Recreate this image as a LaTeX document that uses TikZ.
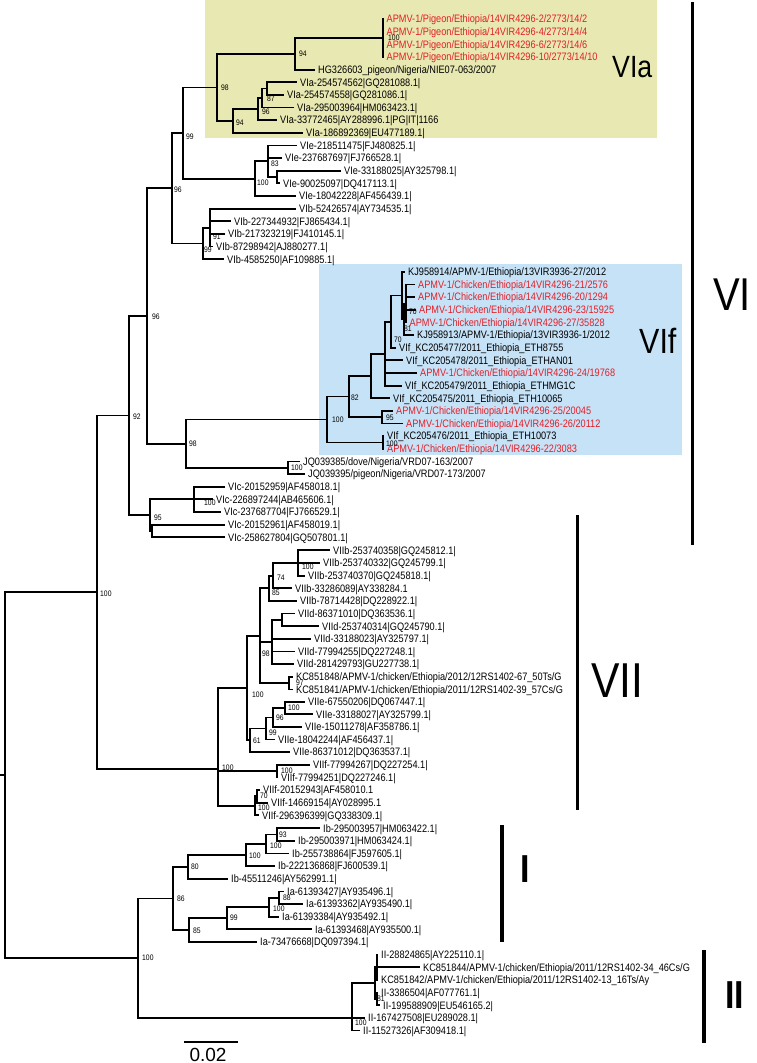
\documentclass[tikz,border=0pt]{standalone}
\usepackage{fontspec}
\setmainfont{Liberation Sans}
\newfontfamily\labfont[FakeStretch=0.85]{Liberation Sans}
\newfontfamily\cladefont[FakeStretch=0.87]{Liberation Sans}
\definecolor{redlab}{RGB}{228,30,38}
\definecolor{boxa}{RGB}{232,232,178}
\definecolor{boxf}{RGB}{198,226,247}
\tikzset{
  br/.style={line width=1.8pt},
  leaf/.style={inner sep=0pt, anchor=base west, font={\labfont\fontsize{10.8}{12}\selectfont}},
  redleaf/.style={leaf, text=redlab},
  bs/.style={inner sep=0pt, anchor=west, font={\labfont\fontsize{8}{9}\selectfont}},
  cbar/.style={line width=3pt},
  clab/.style={inner sep=0pt, anchor=base west},
}
\newcommand{\Lf}[5][]{\coordinate (#2) at (#3,#4); \node[leaf,#1] (#2t) at (#3+3,#4+3.8) {#5};}
\newcommand{\E}[2]{\draw[br] (#1) |- (#2);}
\newcommand{\Bs}[4]{\node[bs] (#1) at (#2,#3) {#4};}
\begin{document}
\begin{tikzpicture}[x=1pt,y=-1pt]
\path[use as bounding box, fill=white] (0,0) rectangle (757,1063);
% boxes
\fill[boxa] (205,0) rectangle (657,138);
\fill[boxf] (319,264) rectangle (682,455);
% ---------------- leaves ----------------
\Lf[redleaf]{l1}{383.5}{19.0}{APMV-1/Pigeon/Ethiopia/14VIR4296-2/2773/14/2}
\Lf[redleaf]{l2}{383.5}{31.6}{APMV-1/Pigeon/Ethiopia/14VIR4296-4/2773/14/4}
\Lf[redleaf]{l3}{383.5}{44.3}{APMV-1/Pigeon/Ethiopia/14VIR4296-6/2773/14/6}
\Lf[redleaf]{l4}{383.5}{56.9}{APMV-1/Pigeon/Ethiopia/14VIR4296-10/2773/14/10}
\Lf{l5}{315}{69.6}{HG326603\_pigeon/Nigeria/NIE07-063/2007}
\Lf{l6}{297}{82.2}{VIa-254574562|GQ281088.1|}
\Lf{l7}{284}{94.8}{VIa-254574558|GQ281086.1|}
\Lf{l8}{294}{107.5}{VIa-295003964|HM063423.1|}
\Lf{l9}{277}{120.1}{VIa-33772465|AY288996.1|PG|IT|1166}
\Lf{l10}{303}{132.8}{VIa-186892369|EU477189.1|}
\Lf{l11}{297}{145.4}{VIe-218511475|FJ480825.1|}
\Lf{l12}{282}{158.0}{VIe-237687697|FJ766528.1|}
\Lf{l13}{341}{170.7}{VIe-33188025|AY325798.1|}
\Lf{l14}{280}{183.3}{VIe-90025097|DQ417113.1|}
\Lf{l15}{296}{196.0}{VIe-18042228|AF456439.1|}
\Lf{l16}{296}{208.6}{VIb-52426574|AY734535.1|}
\Lf{l17}{231}{221.2}{VIb-227344932|FJ865434.1|}
\Lf{l18}{225}{233.9}{VIb-217323219|FJ410145.1|}
\Lf{l19}{213}{246.5}{VIb-87298942|AJ880277.1|}
\Lf{l20}{224}{259.2}{VIb-4585250|AF109885.1|}
\Lf{l21}{405}{271.8}{KJ958914/APMV-1/Ethiopia/13VIR3936-27/2012}
\Lf[redleaf]{l22}{415}{284.4}{APMV-1/Chicken/Ethiopia/14VIR4296-21/2576}
\Lf[redleaf]{l23}{415}{297.1}{APMV-1/Chicken/Ethiopia/14VIR4296-20/1294}
\Lf[redleaf]{l24}{416}{309.7}{APMV-1/Chicken/Ethiopia/14VIR4296-23/15925}
\Lf[redleaf]{l25}{406.5}{322.4}{APMV-1/Chicken/Ethiopia/14VIR4296-27/35828}
\Lf{l26}{414}{335.0}{KJ958913/APMV-1/Ethiopia/13VIR3936-1/2012}
\Lf{l27}{396}{347.6}{VIf\_KC205477/2011\_Ethiopia\_ETH8755}
\Lf{l28}{403}{360.3}{VIf\_KC205478/2011\_Ethiopia\_ETHAN01}
\Lf[redleaf]{l29}{417}{372.9}{APMV-1/Chicken/Ethiopia/14VIR4296-24/19768}
\Lf{l30}{402}{385.6}{VIf\_KC205479/2011\_Ethiopia\_ETHMG1C}
\Lf{l31}{390}{398.2}{VIf\_KC205475/2011\_Ethiopia\_ETH10065}
\Lf[redleaf]{l32}{393}{410.8}{APMV-1/Chicken/Ethiopia/14VIR4296-25/20045}
\Lf[redleaf]{l33}{403}{423.5}{APMV-1/Chicken/Ethiopia/14VIR4296-26/20112}
\Lf{l34}{384}{436.1}{VIf\_KC205476/2011\_Ethiopia\_ETH10073}
\Lf[redleaf]{l35}{384}{448.8}{APMV-1/Chicken/Ethiopia/14VIR4296-22/3083}
\Lf{l36}{300}{461.4}{JQ039385/dove/Nigeria/VRD07-163/2007}
\Lf{l37}{305}{474.1}{JQ039395/pigeon/Nigeria/VRD07-173/2007}
\Lf{l38}{225}{486.7}{VIc-20152959|AF458018.1|}
\Lf{l39}{213}{499.3}{VIc-226897244|AB465606.1|}
\Lf{l40}{221}{512.0}{VIc-237687704|FJ766529.1|}
\Lf{l41}{225}{524.6}{VIc-20152961|AF458019.1|}
\Lf{l42}{225}{537.3}{VIc-258627804|GQ507801.1|}
\Lf{l43}{330}{550.3}{VIIb-253740358|GQ245812.1|}
\Lf{l44}{320}{562.9}{VIIb-253740332|GQ245799.1|}
\Lf{l45}{305}{575.6}{VIIb-253740370|GQ245818.1|}
\Lf{l46}{292}{588.2}{VIIb-33286089|AY338284.1}
\Lf{l47}{297}{600.9}{VIIb-78714428|DQ228922.1|}
\Lf{l48}{295}{613.5}{VIId-86371010|DQ363536.1|}
\Lf{l49}{319}{626.2}{VIId-253740314|GQ245790.1|}
\Lf{l50}{311}{638.8}{VIId-33188023|AY325797.1|}
\Lf{l51}{295}{651.4}{VIId-77994255|DQ227248.1|}
\Lf{l52}{294}{664.1}{VIId-281429793|GU227738.1|}
\Lf{l53}{293}{676.8}{KC851848/APMV-1/chicken/Ethiopia/2012/12RS1402-67\_50Ts/G}
\Lf{l54}{293}{689.4}{KC851841/APMV-1/chicken/Ethiopia/2011/12RS1402-39\_57Cs/G}
\Lf{l55}{305}{701.6}{VIIe-67550206|DQ067447.1|}
\Lf{l56}{313}{714.2}{VIIe-33188027|AY325799.1|}
\Lf{l57}{302}{726.9}{VIIe-15011278|AF358786.1|}
\Lf{l58}{275}{739.5}{VIIe-18042244|AF456437.1|}
\Lf{l59}{290}{752.1}{VIIe-86371012|DQ363537.1|}
\Lf{l60}{310}{764.8}{VIIf-77994267|DQ227254.1|}
\Lf{l61}{278}{777.4}{VIIf-77994251|DQ227246.1|}
\Lf{l62}{260}{790.0}{VIIf-20152943|AF458010.1}
\Lf{l63}{268}{802.7}{VIIf-14669154|AY028995.1}
\Lf{l64}{259}{815.3}{VIIf-296396399|GQ338309.1|}
\Lf{l65}{320}{828.2}{Ib-295003957|HM063422.1|}
\Lf{l66}{295}{840.8}{Ib-295003971|HM063424.1|}
\Lf{l67}{289}{853.5}{Ib-255738864|FJ597605.1|}
\Lf{l68}{275}{866.1}{Ib-222136868|FJ600539.1|}
\Lf{l69}{228}{878.8}{Ib-45511246|AY562991.1|}
\Lf{l70}{284}{891.4}{Ia-61393427|AY935496.1|}
\Lf{l71}{303}{904.0}{Ia-61393362|AY935490.1|}
\Lf{l72}{279}{916.7}{Ia-61393384|AY935492.1|}
\Lf{l73}{312}{929.3}{Ia-61393468|AY935500.1|}
\Lf{l74}{257}{942.0}{Ia-73476668|DQ097394.1|}
\Lf{l75}{378}{954.6}{II-28824865|AY225110.1|}
\Lf{l76}{420}{967.3}{KC851844/APMV-1/chicken/Ethiopia/2011/12RS1402-34\_46Cs/G}
\Lf{l77}{378}{979.9}{KC851842/APMV-1/chicken/Ethiopia/2011/12RS1402-13\_16Ts/Ay}
\Lf{l78}{378}{992.6}{II-3386504|AF077761.1|}
\Lf{l79}{380}{1005.2}{II-199588909|EU546165.2|}
\Lf{l80}{365}{1017.8}{II-167427508|EU289028.1|}
\Lf{l81}{360}{1030.5}{II-11527326|AF309418.1|}
% ---------------- internal nodes ----------------
\coordinate (a100) at (383,38.0);
\coordinate (a94) at (295,53.8);
\coordinate (aC) at (267,88.5);
\coordinate (aB) at (262,98);
\coordinate (aA) at (258,109);
\coordinate (a94b) at (233,121);
\coordinate (a98) at (217,87.4);
\coordinate (e2) at (277,177);
\coordinate (e83) at (268,161.2);
\coordinate (e100) at (255,178.6);
\coordinate (n99) at (183,133);
\coordinate (b91) at (210,227.6);
\coordinate (b99) at (203,243.4);
\coordinate (n96a) at (172,188.2);
\coordinate (f70a) at (406,303.4);
\coordinate (f81) at (404,319.2);
\coordinate (f402) at (402,295.5);
\coordinate (f70b) at (391,321.6);
\coordinate (f385) at (385,353.6);
\coordinate (f371) at (371,375.9);
\coordinate (f95) at (382,417.2);
\coordinate (f82) at (349,396.5);
\coordinate (f100g) at (383,442.5);
\coordinate (fRoot) at (327,419.5);
\coordinate (jq) at (288,467.7);
\coordinate (n98f) at (186,443.6);
\coordinate (n96b) at (147,315.9);
\coordinate (c100) at (194,499.3);
\coordinate (cX) at (152,531);
\coordinate (cRoot) at (150,515.2);
\coordinate (n92) at (129,415.5);
\coordinate (vb100) at (298,563);
\coordinate (v74) at (273,575.6);
\coordinate (v85) at (269,588.2);
\coordinate (vd1) at (282,619.8);
\coordinate (vdRoot) at (272,642);
\coordinate (v97) at (289,683.1);
\coordinate (v98) at (260,635.6);
\coordinate (ve100) at (285,707.9);
\coordinate (ve96) at (273,717.4);
\coordinate (ve99) at (266,728.5);
\coordinate (ve61) at (250,740.3);
\coordinate (v247) at (247,688);
\coordinate (vf100) at (277,771.1);
\coordinate (vf70) at (257,796.3);
\coordinate (vf2) at (255,805.8);
\coordinate (v218) at (218,769);
\coordinate (n100r) at (97,592);
\coordinate (i93) at (277,834.5);
\coordinate (i100j) at (266,844);
\coordinate (i100i) at (246,855);
\coordinate (ibRoot) at (188,866.9);
\coordinate (i88) at (279,897.7);
\coordinate (i100k) at (269,907.2);
\coordinate (i99) at (227,918.3);
\coordinate (iaRoot) at (189,930.1);
\coordinate (iRoot) at (173,898.5);
\coordinate (iib) at (377,967.3);
\coordinate (ii81) at (377,998.9);
\coordinate (iia) at (375,983.1);
\coordinate (iiRoot) at (352,1018);
\coordinate (n138) at (138,958);
\coordinate (root) at (5,775);
\coordinate (r0) at (0,775);
% ---------------- edges ----------------
\E{a100}{l1}\E{a100}{l2}\E{a100}{l3}\E{a100}{l4}
\E{a94}{a100}\E{a94}{l5}
\E{aC}{l6}\E{aC}{l7}
\E{aB}{aC}\E{aB}{l8}
\E{aA}{aB}\E{aA}{l9}
\E{a94b}{aA}\E{a94b}{l10}
\E{a98}{a94}\E{a98}{a94b}
\E{e2}{l13}\E{e2}{l14}
\E{e83}{l11}\E{e83}{l12}\E{e83}{e2}
\E{e100}{e83}\E{e100}{l15}
\E{n99}{a98}\E{n99}{e100}
\E{b91}{l16}\E{b91}{l17}\E{b91}{l18}\E{b91}{l19}
\E{b99}{b91}\E{b99}{l20}
\E{n96a}{n99}\E{n96a}{b99}
\E{f70a}{l22}\E{f70a}{l23}\E{f70a}{l24}\E{f70a}{l25}
\E{f81}{f70a}\E{f81}{l26}
\E{f402}{l21}\E{f402}{f81}
\E{f70b}{f402}\E{f70b}{l27}
\E{f385}{f70b}\E{f385}{l28}\E{f385}{l29}\E{f385}{l30}
\E{f371}{f385}\E{f371}{l31}
\E{f95}{l32}\E{f95}{l33}
\E{f82}{f371}\E{f82}{f95}
\E{f100g}{l34}\E{f100g}{l35}
\E{fRoot}{f82}\E{fRoot}{f100g}
\E{jq}{l36}\E{jq}{l37}
\E{n98f}{fRoot}\E{n98f}{jq}
\E{n96b}{n96a}\E{n96b}{n98f}
\E{c100}{l38}\E{c100}{l39}\E{c100}{l40}
\E{cX}{l41}\E{cX}{l42}
\E{cRoot}{c100}\E{cRoot}{cX}
\E{n92}{n96b}\E{n92}{cRoot}
\E{vb100}{l43}\E{vb100}{l44}\E{vb100}{l45}
\E{v74}{vb100}\E{v74}{l46}
\E{v85}{v74}\E{v85}{l47}
\E{vd1}{l48}\E{vd1}{l49}
\E{vdRoot}{vd1}\E{vdRoot}{l50}\E{vdRoot}{l51}\E{vdRoot}{l52}
\E{v97}{l53}\E{v97}{l54}
\E{v98}{v85}\E{v98}{vdRoot}\E{v98}{v97}
\E{ve100}{l55}\E{ve100}{l56}
\E{ve96}{ve100}\E{ve96}{l57}
\E{ve99}{ve96}\E{ve99}{l58}
\E{ve61}{ve99}\E{ve61}{l59}
\E{v247}{v98}\E{v247}{ve61}
\E{vf100}{l60}\E{vf100}{l61}
\E{vf70}{l62}\E{vf70}{l63}
\E{vf2}{vf70}\E{vf2}{l64}
\E{v218}{v247}\E{v218}{vf100}\E{v218}{vf2}
\E{n100r}{n92}\E{n100r}{v218}
\E{i93}{l65}\E{i93}{l66}
\E{i100j}{i93}\E{i100j}{l67}
\E{i100i}{i100j}\E{i100i}{l68}
\E{ibRoot}{i100i}\E{ibRoot}{l69}
\E{i88}{l70}\E{i88}{l71}
\E{i100k}{i88}\E{i100k}{l72}
\E{i99}{i100k}\E{i99}{l73}
\E{iaRoot}{i99}\E{iaRoot}{l74}
\E{iRoot}{ibRoot}\E{iRoot}{iaRoot}
\E{iib}{l75}\E{iib}{l76}\E{iib}{l77}
\E{ii81}{l78}\E{ii81}{l79}
\E{iia}{iib}\E{iia}{ii81}
\E{iiRoot}{iia}\E{iiRoot}{l80}\E{iiRoot}{l81}
\E{n138}{iRoot}\E{n138}{iiRoot}
\E{root}{n100r}\E{root}{n138}
\draw[br] (r0) -- (root);
% ---------------- bootstrap values ----------------
\Bs{s1}{388}{38}{100}
\Bs{s2}{299}{54}{94}
\Bs{s3}{221}{88}{98}
\Bs{s4}{267}{99}{87}
\Bs{s5}{262}{112}{96}
\Bs{s6}{236}{123}{94}
\Bs{s7}{271}{164}{83}
\Bs{s8}{257}{183}{100}
\Bs{s9}{186}{137}{99}
\Bs{s10}{174}{190}{96}
\Bs{s11}{213}{237}{91}
\Bs{s12}{204}{250}{99}
\Bs{s13}{409}{312}{70}
\Bs{s14}{404}{329}{81}
\Bs{s15}{394}{340}{70}
\Bs{s16}{351}{398}{82}
\Bs{s17}{386}{418}{95}
\Bs{s18}{332}{420}{100}
\Bs{s19}{386}{444}{100}
\Bs{s20}{291}{468}{100}
\Bs{s21}{189}{444}{98}
\Bs{s22}{152}{317}{96}
\Bs{s23}{133}{417}{92}
\Bs{s24}{204}{503}{100}
\Bs{s25}{154}{518}{95}
\Bs{s26}{100}{594}{100}
\Bs{s27}{302}{567}{100}
\Bs{s28}{277}{578}{74}
\Bs{s29}{272}{593}{85}
\Bs{s30}{262}{654}{98}
\Bs{s31}{296}{683}{97}
\Bs{s32}{252}{695}{100}
\Bs{s33}{288}{708}{100}
\Bs{s34}{276}{718}{96}
\Bs{s35}{269}{733}{99}
\Bs{s36}{253}{741}{61}
\Bs{s37}{222}{768}{100}
\Bs{s38}{281}{771}{100}
\Bs{s39}{260}{796}{70}
\Bs{s40}{258}{808}{100}
\Bs{s41}{279}{835}{93}
\Bs{s42}{270}{846}{100}
\Bs{s43}{249}{856}{100}
\Bs{s44}{191}{867}{80}
\Bs{s45}{177}{899}{86}
\Bs{s46}{283}{898}{88}
\Bs{s47}{273}{909}{100}
\Bs{s48}{230}{918}{99}
\Bs{s49}{193}{931}{85}
\Bs{s50}{142}{958}{100}
\Bs{s51}{377}{999}{81}
\Bs{s52}{355}{1023}{100}
% ---------------- clade bars and labels ----------------
\coordinate (viA) at (692,2); \coordinate (viB) at (692,545);
\draw[cbar] (viA) -- (viB);
\coordinate (viiA) at (577,515); \coordinate (viiB) at (577,810);
\draw[cbar] (viiA) -- (viiB);
\coordinate (iA) at (502,825); \coordinate (iB) at (502,942);
\draw[cbar, line width=4pt] (iA) -- (iB);
\coordinate (iiA) at (704,950); \coordinate (iiB) at (704,1043);
\draw[cbar, line width=4pt] (iiA) -- (iiB);
\node[clab, font={\cladefont\fontsize{30.7}{32}\selectfont}] (tVIa) at (612,77) {VIa};
\node[clab, font={\cladefont\fontsize{35}{36}\selectfont}] (tVIf) at (639,353) {VIf};
\node[clab, font={\cladefont\fontsize{46}{48}\selectfont}] (tVI) at (713,310) {VI};
\node[clab, font={\cladefont\fontsize{49}{50}\selectfont}] (tVII) at (591,697) {VII};
\node[clab, font={\cladefont\bfseries\fontsize{39}{40}\selectfont}] (tI) at (520,882) {I};
\node[clab, font={\cladefont\bfseries\fontsize{39}{40}\selectfont}] (tII) at (725,1008) {II};
% scale bar
\coordinate (sbA) at (184,1042); \coordinate (sbB) at (238,1042);
\draw[line width=1.5pt] (sbA) -- (sbB);
\node[inner sep=0pt, anchor=base, font={\fontsize{19}{20}\selectfont}] (sbt) at (208,1061) {0.02};
\end{tikzpicture}
\end{document}
